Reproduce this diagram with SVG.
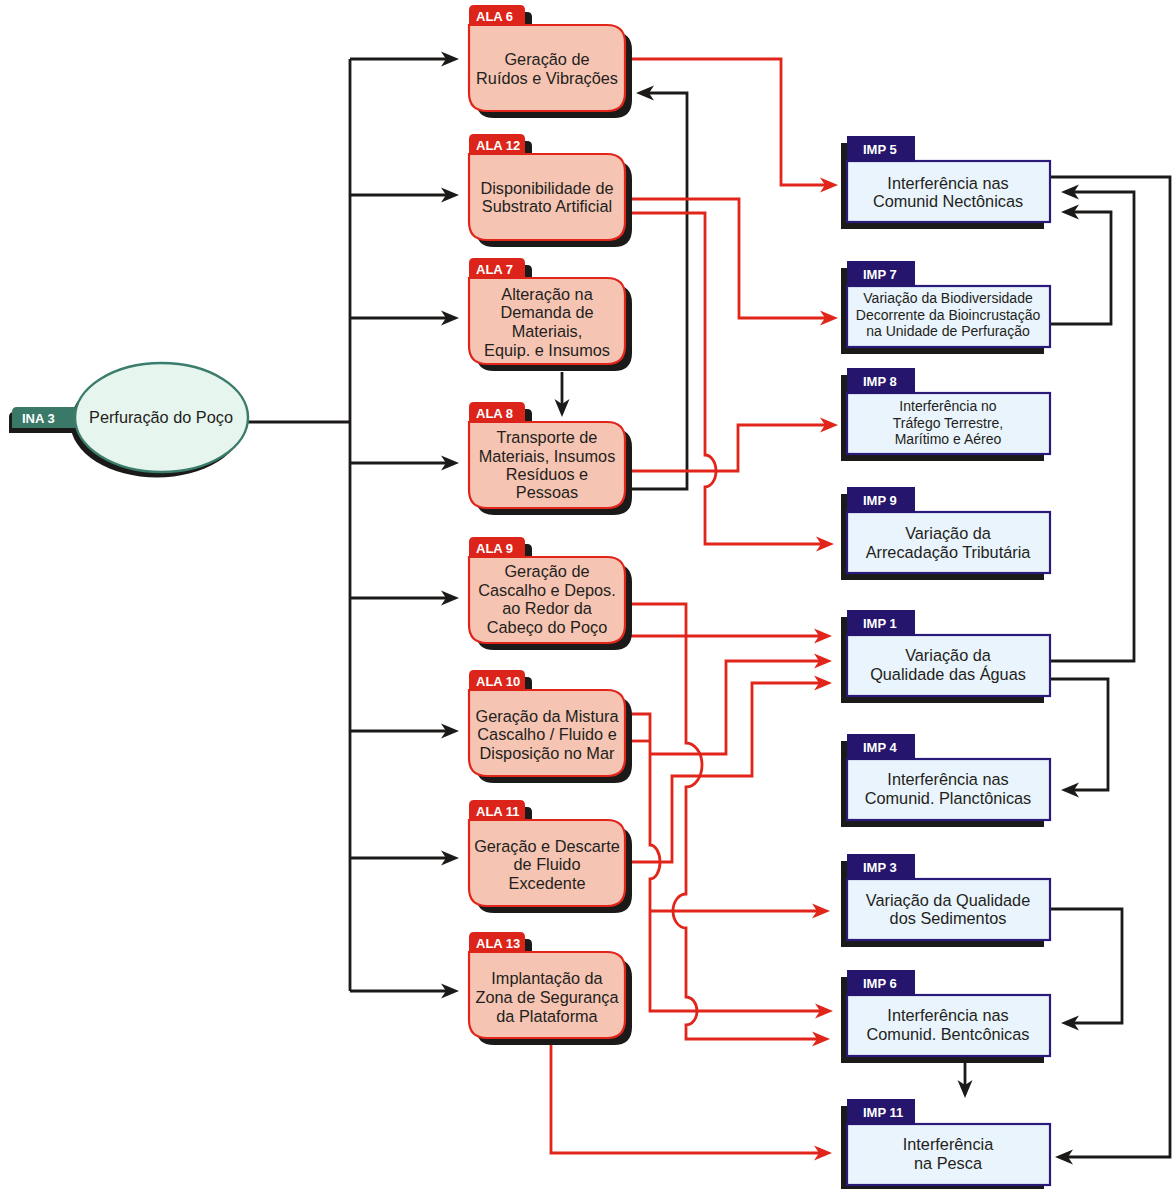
<svg xmlns="http://www.w3.org/2000/svg" xmlns:xlink="http://www.w3.org/1999/xlink" width="1172" height="1189" viewBox="0 0 1172 1189">
<style>
.k{fill:none;stroke:#1c1a19;stroke-width:2.8}
.r{fill:none;stroke:#e1251b;stroke-width:2.8}
.ak{marker-end:url(#arK)}
.ar{marker-end:url(#arR)}
.sh{fill:#1c1a19}
.alabox{fill:#f6c4b2;stroke:#e1251b;stroke-width:2.2}
.alatab{fill:#dc241b}
.impbox{fill:#eaf4fc;stroke:#2a1a7a;stroke-width:2.2}
.imptab{fill:#25156c}
.t{font-family:"Liberation Sans",Arial,sans-serif;font-size:16.3px;fill:#231f20;text-anchor:middle}
.ts{font-size:14px}
.lab{font-family:"Liberation Sans",Arial,sans-serif;font-weight:bold;font-size:13px;fill:#ffffff}
</style>
<defs>
<marker id="arK" viewBox="-8 -10 22 20" refX="0" refY="0" markerWidth="22" markerHeight="20" markerUnits="userSpaceOnUse" orient="auto">
<path d="M12,0 L-6,-7.5 L-1,0 L-6,7.5 Z" fill="#1c1a19"/>
</marker>
<marker id="arR" viewBox="-8 -10 22 20" refX="0" refY="0" markerWidth="22" markerHeight="20" markerUnits="userSpaceOnUse" orient="auto">
<path d="M12,0 L-6,-7.5 L-1,0 L-6,7.5 Z" fill="#e1251b"/>
</marker>
<path id="alaShape" d="M0,5 Q0,0 5,0 L51,0 Q56,0 56,5 L56,20 L138,20 Q156,20 156,38 L156,88 Q156,106 138,106 L18,106 Q0,106 0,88 Z"/>
<path id="alaBox" d="M0,20 L138,20 Q156,20 156,38 L156,88 Q156,106 138,106 L18,106 Q0,106 0,88 Z"/>
<path id="alaTab" d="M0,21 L0,5 Q0,0 5,0 L51,0 Q56,0 56,5 L56,21 Z"/>
<path id="impShape" d="M0,0 L68,0 L68,25 L203,25 L203,86 L0,86 Z"/>
<rect id="impBox" x="0" y="25" width="203" height="61"/>
<rect id="impTab" x="0" y="0" width="68" height="26"/>
</defs>

<g id="connectors">
<!-- black -->
<path class="k" d="M248,422 H350"/>
<path class="k" d="M350,59 V991"/>
<path class="k ak" d="M350,59 H447"/>
<path class="k ak" d="M350,195 H447"/>
<path class="k ak" d="M350,318 H447"/>
<path class="k ak" d="M350,463 H447"/>
<path class="k ak" d="M350,598 H447"/>
<path class="k ak" d="M350,731 H447"/>
<path class="k ak" d="M350,858 H447"/>
<path class="k ak" d="M350,991 H447"/>
<path class="k ak" d="M626,489 H687 V93 H648"/>
<path class="k ak" d="M562,372 V405"/>
<path class="k ak" d="M1045,177 H1170 V1157 H1067"/>
<path class="k ak" d="M1045,661 H1134 V192 H1073"/>
<path class="k ak" d="M1045,324 H1111 V212 H1073"/>
<path class="k ak" d="M1045,679 H1108 V790 H1073"/>
<path class="k ak" d="M1045,909 H1122 V1023 H1073"/>
<path class="k ak" d="M965,1063 V1086"/>
<!-- red -->
<path class="r ar" d="M626,59 H781 V185 H826"/>
<path class="r ar" d="M626,199 H739 V318 H826"/>
<path class="r ar" d="M626,213 H705 V455 A11,16 0 0 1 705,487 V544 H822"/>
<path class="r ar" d="M626,471 H738 V425 H826"/>
<path class="r ar" d="M626,604 H686 V743 A16,22 0 0 1 686,787 V894 A13,17 0 0 0 686,928 V997 A11,14 0 0 1 686,1025 V1039 H818"/>
<path class="r ar" d="M626,636 H820"/>
<path class="r ar" d="M626,714 H650 V845 A10,17 0 0 1 650,879 V1011 H821"/>
<path class="r" d="M626,741 H650"/>
<path class="r ar" d="M650,754 H726 V661 H820"/>
<path class="r ar" d="M650,911 H818"/>
<path class="r ar" d="M626,862 H672 V776 H752 V683 H820"/>
<path class="r ar" d="M551,1045 V1153 H820"/>
</g>

<g id="ina3">
<ellipse class="sh" cx="157" cy="423" rx="86.5" ry="54.5"/>
<path class="sh" d="M9,433 L9,417 Q9,412 14,412 L90,412 L90,433 Z"/>
<path fill="#3a7868" d="M12,428 L12,412 Q12,407 17,407 L90,407 L90,428 Z"/>
<ellipse cx="161.5" cy="417.5" rx="86.5" ry="54.5" fill="#e7f5ef" stroke="#3a7d6c" stroke-width="2.5"/>
<text class="lab" x="22" y="423">INA 3</text>
<text class="t" x="161" y="423">Perfuração do Poço</text>
</g>

<g id="ala6">
<use xlink:href="#alaShape" class="sh" transform="translate(476,12)"/>
<use xlink:href="#alaBox" class="alabox" transform="translate(469,5)"/>
<use xlink:href="#alaTab" class="alatab" transform="translate(469,5)"/>
<text class="lab" x="476" y="21">ALA 6</text>
<text class="t" x="547" y="65">Geração de</text>
<text class="t" x="547" y="84">Ruídos e Vibrações</text>
</g>
<g id="ala12">
<use xlink:href="#alaShape" class="sh" transform="translate(476,141)"/>
<use xlink:href="#alaBox" class="alabox" transform="translate(469,134)"/>
<use xlink:href="#alaTab" class="alatab" transform="translate(469,134)"/>
<text class="lab" x="476" y="150">ALA 12</text>
<text class="t" x="547" y="194">Disponibilidade de</text>
<text class="t" x="547" y="212">Substrato Artificial</text>
</g>
<g id="ala7">
<use xlink:href="#alaShape" class="sh" transform="translate(476,265)"/>
<use xlink:href="#alaBox" class="alabox" transform="translate(469,258)"/>
<use xlink:href="#alaTab" class="alatab" transform="translate(469,258)"/>
<text class="lab" x="476" y="274">ALA 7</text>
<text class="t" x="547" y="300">Alteração na</text>
<text class="t" x="547" y="318">Demanda de</text>
<text class="t" x="547" y="337">Materiais,</text>
<text class="t" x="547" y="356">Equip. e Insumos</text>
</g>
<g id="ala8">
<use xlink:href="#alaShape" class="sh" transform="translate(476,409)"/>
<use xlink:href="#alaBox" class="alabox" transform="translate(469,402)"/>
<use xlink:href="#alaTab" class="alatab" transform="translate(469,402)"/>
<text class="lab" x="476" y="418">ALA 8</text>
<text class="t" x="547" y="443">Transporte de</text>
<text class="t" x="547" y="462">Materiais, Insumos</text>
<text class="t" x="547" y="480">Resíduos e</text>
<text class="t" x="547" y="498">Pessoas</text>
</g>
<g id="ala9">
<use xlink:href="#alaShape" class="sh" transform="translate(476,544)"/>
<use xlink:href="#alaBox" class="alabox" transform="translate(469,537)"/>
<use xlink:href="#alaTab" class="alatab" transform="translate(469,537)"/>
<text class="lab" x="476" y="553">ALA 9</text>
<text class="t" x="547" y="577">Geração de</text>
<text class="t" x="547" y="596">Cascalho e Depos.</text>
<text class="t" x="547" y="614">ao Redor da</text>
<text class="t" x="547" y="633">Cabeço do Poço</text>
</g>
<g id="ala10">
<use xlink:href="#alaShape" class="sh" transform="translate(476,677)"/>
<use xlink:href="#alaBox" class="alabox" transform="translate(469,670)"/>
<use xlink:href="#alaTab" class="alatab" transform="translate(469,670)"/>
<text class="lab" x="476" y="686">ALA 10</text>
<text class="t" x="547" y="722">Geração da Mistura</text>
<text class="t" x="547" y="740">Cascalho / Fluido e</text>
<text class="t" x="547" y="759">Disposição no Mar</text>
</g>
<g id="ala11">
<use xlink:href="#alaShape" class="sh" transform="translate(476,807)"/>
<use xlink:href="#alaBox" class="alabox" transform="translate(469,800)"/>
<use xlink:href="#alaTab" class="alatab" transform="translate(469,800)"/>
<text class="lab" x="476" y="816">ALA 11</text>
<text class="t" x="547" y="852">Geração e Descarte</text>
<text class="t" x="547" y="870">de Fluido</text>
<text class="t" x="547" y="889">Excedente</text>
</g>
<g id="ala13">
<use xlink:href="#alaShape" class="sh" transform="translate(476,939)"/>
<use xlink:href="#alaBox" class="alabox" transform="translate(469,932)"/>
<use xlink:href="#alaTab" class="alatab" transform="translate(469,932)"/>
<text class="lab" x="476" y="948">ALA 13</text>
<text class="t" x="547" y="984">Implantação da</text>
<text class="t" x="547" y="1003">Zona de Segurança</text>
<text class="t" x="547" y="1022">da Plataforma</text>
</g>

<g id="imp5">
<use xlink:href="#impShape" class="sh" transform="translate(841,143)"/>
<use xlink:href="#impBox" class="impbox" transform="translate(847,136)"/>
<use xlink:href="#impTab" class="imptab" transform="translate(847,136)"/>
<text class="lab" x="863" y="154">IMP 5</text>
<text class="t" x="948" y="189">Interferência nas</text>
<text class="t" x="948" y="207">Comunid Nectônicas</text>
</g>
<g id="imp7">
<use xlink:href="#impShape" class="sh" transform="translate(841,268)"/>
<use xlink:href="#impBox" class="impbox" transform="translate(847,261)"/>
<use xlink:href="#impTab" class="imptab" transform="translate(847,261)"/>
<text class="lab" x="863" y="279">IMP 7</text>
<text class="t ts" x="948" y="303">Variação da Biodiversidade</text>
<text class="t ts" x="948" y="320">Decorrente da Bioincrustação</text>
<text class="t ts" x="948" y="336">na Unidade de Perfuração</text>
</g>
<g id="imp8">
<use xlink:href="#impShape" class="sh" transform="translate(841,375)"/>
<use xlink:href="#impBox" class="impbox" transform="translate(847,368)"/>
<use xlink:href="#impTab" class="imptab" transform="translate(847,368)"/>
<text class="lab" x="863" y="386">IMP 8</text>
<text class="t ts" x="948" y="411">Interferência no</text>
<text class="t ts" x="948" y="428">Tráfego Terrestre,</text>
<text class="t ts" x="948" y="444">Marítimo e Aéreo</text>
</g>
<g id="imp9">
<use xlink:href="#impShape" class="sh" transform="translate(841,494)"/>
<use xlink:href="#impBox" class="impbox" transform="translate(847,487)"/>
<use xlink:href="#impTab" class="imptab" transform="translate(847,487)"/>
<text class="lab" x="863" y="505">IMP 9</text>
<text class="t" x="948" y="539">Variação da</text>
<text class="t" x="948" y="558">Arrecadação Tributária</text>
</g>
<g id="imp1">
<use xlink:href="#impShape" class="sh" transform="translate(841,617)"/>
<use xlink:href="#impBox" class="impbox" transform="translate(847,610)"/>
<use xlink:href="#impTab" class="imptab" transform="translate(847,610)"/>
<text class="lab" x="863" y="628">IMP 1</text>
<text class="t" x="948" y="661">Variação da</text>
<text class="t" x="948" y="680">Qualidade das Águas</text>
</g>
<g id="imp4">
<use xlink:href="#impShape" class="sh" transform="translate(841,741)"/>
<use xlink:href="#impBox" class="impbox" transform="translate(847,734)"/>
<use xlink:href="#impTab" class="imptab" transform="translate(847,734)"/>
<text class="lab" x="863" y="752">IMP 4</text>
<text class="t" x="948" y="785">Interferência nas</text>
<text class="t" x="948" y="804">Comunid. Planctônicas</text>
</g>
<g id="imp3">
<use xlink:href="#impShape" class="sh" transform="translate(841,861)"/>
<use xlink:href="#impBox" class="impbox" transform="translate(847,854)"/>
<use xlink:href="#impTab" class="imptab" transform="translate(847,854)"/>
<text class="lab" x="863" y="872">IMP 3</text>
<text class="t" x="948" y="906">Variação da Qualidade</text>
<text class="t" x="948" y="924">dos Sedimentos</text>
</g>
<g id="imp6">
<use xlink:href="#impShape" class="sh" transform="translate(841,977)"/>
<use xlink:href="#impBox" class="impbox" transform="translate(847,970)"/>
<use xlink:href="#impTab" class="imptab" transform="translate(847,970)"/>
<text class="lab" x="863" y="988">IMP 6</text>
<text class="t" x="948" y="1021">Interferência nas</text>
<text class="t" x="948" y="1040">Comunid. Bentcônicas</text>
</g>
<g id="imp11">
<use xlink:href="#impShape" class="sh" transform="translate(841,1106)"/>
<use xlink:href="#impBox" class="impbox" transform="translate(847,1099)"/>
<use xlink:href="#impTab" class="imptab" transform="translate(847,1099)"/>
<text class="lab" x="863" y="1117">IMP 11</text>
<text class="t" x="948" y="1150">Interferência</text>
<text class="t" x="948" y="1169">na Pesca</text>
</g>
</svg>
